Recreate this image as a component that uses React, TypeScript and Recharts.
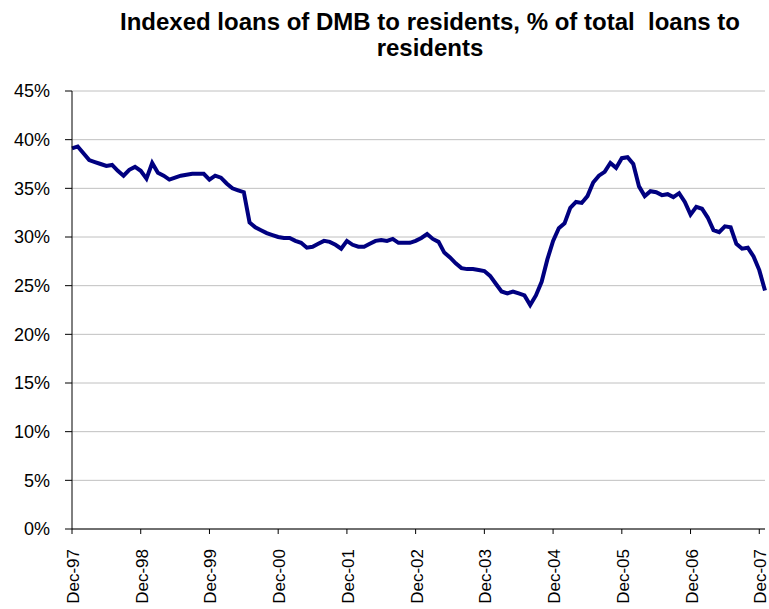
import React from "react";
import { LineChart, Line, XAxis, YAxis, CartesianGrid } from "recharts";

// monthly share of indexed loans, Dec-97 .. Jan-08
const indexedShare = [
  39.1, // Dec-97
  39.3, 38.6, 37.9, 37.7, 37.5, 37.3, 37.4, 36.8, 36.3, 36.9, 37.2, 36.8, // 1998
  36.0, 37.6, 36.6, 36.3, 35.9, 36.1, 36.3, 36.4, 36.5, 36.5, 36.5, 35.9, // 1999
  36.3, 36.1, 35.5, 35.0, 34.8, 34.6, 31.5, 31.0, 30.7, 30.4, 30.2, 30.0, // 2000
  29.9, 29.9, 29.6, 29.4, 28.9, 29.0, 29.3, 29.6, 29.5, 29.2, 28.8, 29.6, // 2001
  29.2, 29.0, 29.0, 29.3, 29.6, 29.7, 29.6, 29.8, 29.4, 29.4, 29.4, 29.6, // 2002
  29.9, 30.3, 29.8, 29.5, 28.4, 27.9, 27.3, 26.8, 26.7, 26.7, 26.6, 26.5, // 2003
  26.0, 25.2, 24.4, 24.2, 24.4, 24.2, 24.0, 23.0, 24.0, 25.4, 27.7, 29.6, // 2004
  30.9, 31.4, 33.0, 33.6, 33.5, 34.2, 35.6, 36.3, 36.7, 37.6, 37.1, 38.1, // 2005
  38.2, 37.5, 35.2, 34.2, 34.7, 34.6, 34.3, 34.4, 34.1, 34.5, 33.6, 32.3, // 2006
  33.1, 32.9, 32.0, 30.7, 30.5, 31.1, 31.0, 29.3, 28.8, 28.9, 28.0, 26.6, // 2007
  24.5, // Jan-08
];

const monthNames = ["Jan", "Feb", "Mar", "Apr", "May", "Jun", "Jul", "Aug", "Sep", "Oct", "Nov", "Dec"];
const firstYear = 1997;
const firstMonth = 11; // December

const yTicks = [0, 5, 10, 15, 20, 25, 30, 35, 40, 45];

const monthLabel = (i: number) => {
  const m = (firstMonth + i) % 12;
  const y = firstYear + Math.floor((firstMonth + i) / 12);
  return `${monthNames[m]}-${String(y % 100).padStart(2, "0")}`;
};

const data = indexedShare.map((v, i) => ({ month: monthLabel(i), share: v }));

const FONT = "'Liberation Sans', Arial, sans-serif";

const MonthTick = (props: any) => {
  const { x, y, payload } = props;
  return (
    <text
      x={x}
      y={y}
      transform={`rotate(-90 ${x} ${y})`}
      textAnchor="end"
      dy={7}
      fontSize={17}
      fontFamily={FONT}
      fill="#000"
    >
      {payload.value}
    </text>
  );
};

export default function App() {
  return (
    <div
      style={{
        position: "absolute",
        left: 0,
        top: 0,
        width: 769,
        height: 609,
        background: "#fff",
        overflow: "hidden",
        fontFamily: FONT,
      }}
    >
      <div
        style={{
          position: "absolute",
          left: 0,
          top: 9,
          width: 860,
          textAlign: "center",
          fontWeight: "bold",
          fontSize: 24,
          lineHeight: "26px",
          color: "#000",
          whiteSpace: "pre",
        }}
      >
        {"Indexed loans of DMB to residents, % of total  loans to\nresidents"}
      </div>
      <LineChart width={769} height={609} data={data} margin={{ top: 91, right: 4, bottom: 5, left: 0 }}>
        <CartesianGrid vertical={false} stroke="#c0c0c0" />
        <XAxis
          dataKey="month"
          interval={11}
          height={75}
          tickSize={5}
          tickMargin={15}
          tick={<MonthTick />}
          axisLine={{ stroke: "#000" }}
          tickLine={{ stroke: "#000" }}
          padding={{ left: 0, right: 0 }}
        />
        <YAxis
          width={72}
          domain={[0, 45]}
          ticks={yTicks}
          tickFormatter={(v) => `${v}%`}
          tickSize={7}
          tickMargin={15}
          tick={{ fontSize: 18, fill: "#000", fontFamily: FONT }}
          axisLine={{ stroke: "#000" }}
          tickLine={{ stroke: "#000" }}
        />
        <Line
          type="linear"
          dataKey="share"
          stroke="#000080"
          strokeWidth={4}
          dot={false}
          isAnimationActive={false}
        />
      </LineChart>
    </div>
  );
}
